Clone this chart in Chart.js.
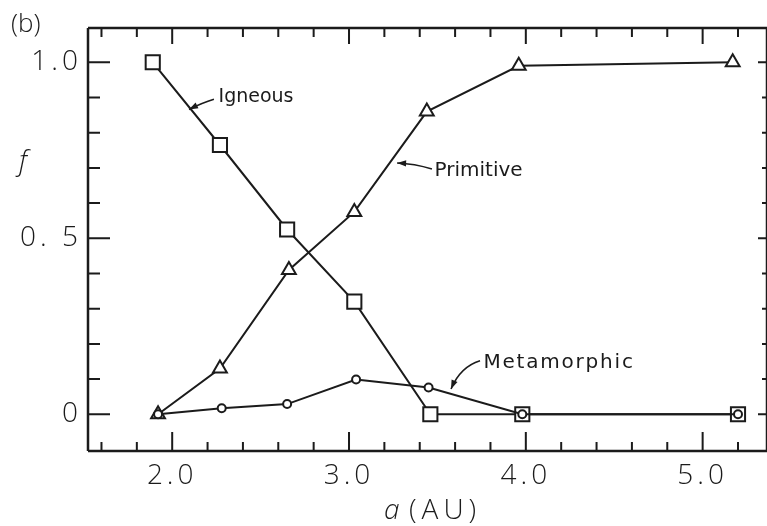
<!DOCTYPE html>
<html>
<head>
<meta charset="utf-8">
<script src="https://cdn.jsdelivr.net/npm/chart.js@4.4.1/dist/chart.umd.min.js"></script>
<style>
  html, body { margin: 0; padding: 0; background: #ffffff; overflow: hidden; }
  #wrap { width: 767px; height: 526px; position: relative; }
  canvas { display: block; }
</style>
</head>
<body>
<div id="wrap"><canvas id="c" width="767" height="526"></canvas></div>
<script>
// Fraction f of each asteroid class against semimajor axis a (AU)
const xTickValues = [2, 3, 4, 5];
const xTickLabels = ['2.0', '3.0', '4.0', '5.0'];
const yTickValues = [0, 0.5, 1.0];
const yTickLabels = ['0', '0. 5', '1.0'];

const igneousA     = [1.89, 2.27, 2.65, 3.03, 3.46, 3.98, 5.20];
const igneousF     = [1.00, 0.765, 0.525, 0.32, 0.0, 0.0, 0.0];
const primitiveA   = [1.92, 2.27, 2.66, 3.03, 3.44, 3.96, 5.17];
const primitiveF   = [0.0, 0.13, 0.41, 0.575, 0.86, 0.99, 1.0];
const metamorphicA = [1.92, 2.28, 2.65, 3.04, 3.45, 3.98, 5.20];
const metamorphicF = [0.0, 0.017, 0.029, 0.099, 0.076, 0.0, 0.0];

const ink = '#1b1b1b';
const tickFont = { family: '"Open Sans", sans-serif', size: 28, weight: '300' };

function toPoints(xs, ys) {
  return xs.map((x, i) => ({ x: x, y: ys[i] }));
}

// Plot box runs to the right edge of the canvas
const edgePlugin = {
  id: 'edge',
  afterLayout(chart) {
    const right = chart.canvas.width;
    const xs = chart.scales.x;
    xs.right = right;
    xs.width = right - xs.left;
    xs.configure();
    chart.chartArea.right = right;
    chart.chartArea.width = right - chart.chartArea.left;
  }
};

// Open frame with inward tick marks on all four sides
const framePlugin = {
  id: 'frame',
  beforeDraw(chart) {
    const c = chart.ctx;
    c.save();
    c.fillStyle = '#ffffff';
    c.fillRect(0, 0, chart.width, chart.height);
    c.restore();
    c.letterSpacing = '4px';
  },
  afterDatasetsDraw(chart) {
    const c = chart.ctx;
    const xs = chart.scales.x, ys = chart.scales.y;
    const a = chart.chartArea;
    c.save();
    c.letterSpacing = '0px';
    c.strokeStyle = ink;
    c.lineCap = 'butt';
    c.lineWidth = 2.5;
    c.beginPath();
    c.moveTo(a.left, a.top); c.lineTo(a.right, a.top);
    c.moveTo(a.left, a.top); c.lineTo(a.left, a.bottom);
    c.moveTo(a.left, a.bottom); c.lineTo(a.right, a.bottom);
    c.moveTo(a.right, a.top); c.lineTo(a.right, a.bottom);
    c.stroke();

    c.lineWidth = 2;
    c.beginPath();
    for (let k = 8; k <= 26; k++) {
      const v = k * 0.2;
      const major = k % 5 === 0;
      const px = xs.getPixelForValue(v);
      c.moveTo(px, a.bottom); c.lineTo(px, a.bottom - (major ? 19 : 9));
      c.moveTo(px, a.top); c.lineTo(px, a.top + (major ? 16 : 9));
    }
    for (let k = 0; k <= 10; k++) {
      const v = k * 0.1;
      const major = k % 5 === 0;
      const py = ys.getPixelForValue(v);
      c.moveTo(a.left, py); c.lineTo(a.left + (major ? 22 : 12), py);
      c.moveTo(a.right, py); c.lineTo(a.right - (major ? 9 : 5), py);
    }
    c.stroke();
    c.restore();
  },
  afterDraw(chart) {
    const c = chart.ctx;
    const xs = chart.scales.x, ys = chart.scales.y;
    const P = (ax, fy) => [xs.getPixelForValue(ax), ys.getPixelForValue(fy)];
    c.save();
    c.fillStyle = ink;
    c.strokeStyle = ink;
    c.textBaseline = 'middle';
    c.textAlign = 'left';

    function arrow(from, ctrl, to) {
      c.lineWidth = 1.6;
      c.beginPath();
      c.moveTo(from[0], from[1]);
      c.quadraticCurveTo(ctrl[0], ctrl[1], to[0], to[1]);
      c.stroke();
      const ang = Math.atan2(to[1] - ctrl[1], to[0] - ctrl[0]);
      const L = 9, W = 3.2;
      c.beginPath();
      c.moveTo(to[0], to[1]);
      c.lineTo(to[0] - L * Math.cos(ang) + W * Math.sin(ang), to[1] - L * Math.sin(ang) - W * Math.cos(ang));
      c.lineTo(to[0] - L * Math.cos(ang) - W * Math.sin(ang), to[1] - L * Math.sin(ang) + W * Math.cos(ang));
      c.closePath();
      c.fill();
    }

    // Class labels with leader arrows
    c.font = '400 19px "DejaVu Sans", sans-serif';
    c.letterSpacing = '0px';
    let p = P(2.262, 0.901);
    c.fillText('Igneous', p[0], p[1]);
    arrow(P(2.236, 0.895), P(2.17, 0.885), P(2.095, 0.866));

    c.font = '400 20px "DejaVu Sans", sans-serif';
    p = P(3.484, 0.691);
    c.fillText('Primitive', p[0], p[1]);
    arrow(P(3.469, 0.697), P(3.37, 0.712), P(3.272, 0.714));

    c.letterSpacing = '1.8px';
    p = P(3.760, 0.146);
    c.fillText('Metamorphic', p[0], p[1]);
    arrow(P(3.741, 0.152), P(3.63, 0.135), P(3.577, 0.072));

    // Panel tag and axis titles
    c.letterSpacing = '0px';
    c.font = '300 26px "Open Sans", sans-serif';
    c.fillText('(b)', 11, 25);

    c.font = 'italic 300 28px "Open Sans", sans-serif';
    c.fillText('f', 19, 162);

    c.font = 'italic 300 28px "Open Sans", sans-serif';
    c.fillText('a', 384, 511);
    c.font = '300 28px "Open Sans", sans-serif';
    c.letterSpacing = '5px';
    c.fillText('(AU)', 409, 511);
    c.restore();
    c.letterSpacing = '0px';
  }
};

const common = {
  borderColor: ink,
  borderWidth: 2,
  pointBorderColor: ink,
  pointBackgroundColor: '#ffffff',
  pointBorderWidth: 2,
  tension: 0,
  fill: false,
  showLine: true,
  clip: false
};

new Chart(document.getElementById('c').getContext('2d'), {
  type: 'line',
  data: {
    datasets: [
      Object.assign({ label: 'Metamorphic', data: toPoints(metamorphicA, metamorphicF), pointStyle: 'circle', pointRadius: 4 }, common),
      Object.assign({ label: 'Primitive', data: toPoints(primitiveA, primitiveF), pointStyle: 'triangle', pointRadius: 8 }, common),
      Object.assign({ label: 'Igneous', data: toPoints(igneousA, igneousF), pointStyle: 'rect', pointRadius: 10 }, common)
    ]
  },
  options: {
    responsive: false,
    animation: false,
    devicePixelRatio: 1,
    events: [],
    layout: { padding: { top: 28, right: 0, left: 0, bottom: 0 } },
    plugins: { legend: { display: false }, tooltip: { enabled: false } },
    scales: {
      x: {
        type: 'linear',
        min: 1.5238,
        max: 5.364,
        grid: { display: false, drawTicks: false },
        border: { display: false },
        afterFit: s => { s.height = 75; s.paddingLeft = 0; s.paddingRight = 0; },
        afterBuildTicks: s => { s.ticks = xTickValues.map(v => ({ value: v })); },
        ticks: {
          autoSkip: false,
          maxRotation: 0,
          padding: 8,
          color: ink,
          font: tickFont,
          callback: v => xTickLabels[xTickValues.indexOf(v)]
        }
      },
      y: {
        type: 'linear',
        min: -0.1043,
        max: 1.0974,
        grid: { display: false, drawTicks: false },
        border: { display: false },
        afterFit: s => { s.width = 88; s.paddingTop = 0; s.paddingBottom = 0; },
        afterBuildTicks: s => { s.ticks = yTickValues.map(v => ({ value: v })); },
        ticks: {
          autoSkip: false,
          padding: 6,
          color: ink,
          font: tickFont,
          callback: v => yTickLabels[yTickValues.indexOf(v)]
        }
      }
    }
  },
  plugins: [edgePlugin, framePlugin]
});
</script>
</body>
</html>
